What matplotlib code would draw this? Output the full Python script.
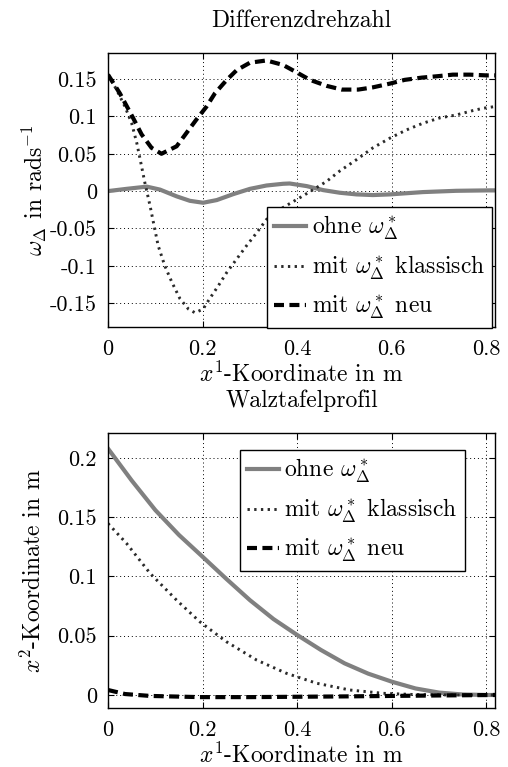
import numpy as np
import matplotlib
matplotlib.use("Agg")
import matplotlib.pyplot as plt

plt.rcParams['font.family'] = 'serif'
plt.rcParams['font.serif'] = ['cmr10']
plt.rcParams['mathtext.fontset'] = 'cm'
plt.rcParams['axes.unicode_minus'] = False
plt.rcParams['axes.formatter.use_mathtext'] = True
plt.rcParams['font.size'] = 17

grau = '#808080'

# Differenzdrehzahl
x_ohne = [0, 0.039, 0.082, 0.11, 0.145, 0.173, 0.201, 0.23, 0.265, 0.3, 0.335, 0.37, 0.384, 0.42, 0.455, 0.49,
          0.525, 0.56, 0.596, 0.666, 0.736, 0.807, 0.818]
w_ohne = [0, 0.003, 0.006, 0.002, -0.007, -0.013, -0.0156, -0.012, -0.004, 0.003, 0.0075, 0.0098, 0.0102, 0.0067,
          0.0013, -0.0022, -0.0044, -0.0053, -0.0044, -0.0013, 0.0004, 0.001, 0.001]

x_klass = [0, 0.018, 0.036, 0.05, 0.061, 0.071, 0.078, 0.089, 0.096, 0.106, 0.12, 0.135, 0.152, 0.17, 0.184, 0.201,
           0.215, 0.233, 0.251, 0.272, 0.293, 0.314, 0.335, 0.37, 0.405, 0.434, 0.462, 0.49, 0.525, 0.56, 0.596,
           0.631, 0.666, 0.701, 0.736, 0.772, 0.793, 0.815]
w_klass = [0.156, 0.136, 0.113, 0.091, 0.064, 0.033, 0.011, -0.02, -0.042, -0.073, -0.1, -0.122, -0.144, -0.158,
           -0.163, -0.158, -0.144, -0.127, -0.109, -0.091, -0.073, -0.056, -0.038, -0.022, -0.009, 0.002, 0.013,
           0.027, 0.042, 0.058, 0.071, 0.082, 0.091, 0.098, 0.102, 0.108, 0.111, 0.113]

x_neu = [0, 0.025, 0.053, 0.071, 0.092, 0.113, 0.145, 0.166, 0.187, 0.208, 0.226, 0.251, 0.272, 0.3, 0.335, 0.37,
         0.396, 0.427, 0.462, 0.494, 0.529, 0.56, 0.596, 0.627, 0.663, 0.698, 0.729, 0.765, 0.8, 0.818]
w_neu = [0.156, 0.131, 0.098, 0.076, 0.058, 0.05, 0.06, 0.078, 0.096, 0.113, 0.131, 0.149, 0.162, 0.172, 0.175,
         0.169, 0.16, 0.149, 0.141, 0.136, 0.136, 0.139, 0.144, 0.149, 0.152, 0.154, 0.156, 0.156, 0.155, 0.155]

# Walztafelprofil
x_p_ohne = [0, 0.05, 0.1, 0.15, 0.2, 0.25, 0.3, 0.35, 0.4, 0.45, 0.5, 0.55, 0.6, 0.65, 0.7, 0.75, 0.8, 0.818]
p_ohne = [0.2079, 0.181, 0.156, 0.135, 0.1166, 0.098, 0.080, 0.064, 0.0506, 0.038, 0.0267, 0.018, 0.0112, 0.0055,
          0.002, 0.0004, 0.0, 0.0]
x_p_klass = [0, 0.039, 0.089, 0.145, 0.194, 0.25, 0.314, 0.377, 0.441, 0.511, 0.582, 0.652, 0.73, 0.818]
p_klass = [0.1447, 0.128, 0.1026, 0.08, 0.0618, 0.045, 0.0295, 0.0183, 0.0099, 0.0042, 0.0014, 0.0003, 0.0, 0.0]
x_p_neu = [0, 0.036, 0.089, 0.194, 0.3, 0.4, 0.5, 0.6, 0.7, 0.818]
p_neu = [0.0042, 0.0008, -0.0008, -0.0018, -0.0018, -0.0015, -0.0012, -0.0008, -0.0004, 0.0]

labels = [r'ohne $\omega_\Delta^*$', r'mit $\omega_\Delta^*$ klassisch', r'mit $\omega_\Delta^*$ neu']
xticks = [0, 0.2, 0.4, 0.6, 0.8]

fig = plt.figure(figsize=(5.08, 7.67), dpi=100)
ax1 = fig.add_axes([0.2126, 0.5737, 0.7618, 0.3572])
ax2 = fig.add_axes([0.2126, 0.0769, 0.7618, 0.3585])


def style(ax):
    ax.grid(True, color='black', linestyle=(0, (1, 3)), linewidth=0.7)
    ax.tick_params(direction='in', top=True, right=True, length=4, width=0.8, labelsize=16)
    ax.tick_params(axis='x', pad=9)
    ax.tick_params(axis='y', pad=8)
    for s in ax.spines.values():
        s.set_linewidth(1.0)
    ax.set_xticks(xticks)
    ax.set_xticklabels(['0', '0.2', '0.4', '0.6', '0.8'])
    ax.set_xlim(0, 0.818)
    ax.set_xlabel(r'$x^1$-Koordinate in m', labelpad=2)


def lines(ax, xs, ys):
    ax.plot(xs[0], ys[0], color=grau, linewidth=3, label=labels[0])
    ax.plot(xs[1], ys[1], color='#2a2a2a', linewidth=2.1, linestyle=(0, (0.8, 1.5)), label=labels[1])
    ax.plot(xs[2], ys[2], color='black', linewidth=3, linestyle=(0, (2.4, 1.3)), label=labels[2])


leg_kw = dict(fancybox=False, framealpha=1, edgecolor='black', handlelength=1.35, handletextpad=0.25,
              borderpad=0.3, borderaxespad=0, labelspacing=0.5, handleheight=0.7)

lines(ax1, [x_ohne, x_klass, x_neu], [w_ohne, w_klass, w_neu])
style(ax1)
ax1.set_ylim(-0.182, 0.185)
ax1.set_yticks([-0.15, -0.1, -0.05, 0, 0.05, 0.1, 0.15])
ax1.set_yticklabels(['-0.15', '-0.1', '-0.05', '0', '0.05', '0.1', '0.15'])
ax1.set_ylabel(r'$\omega_\Delta$ in rads$^{-1}$', labelpad=1)
ax1.set_title('Differenzdrehzahl', pad=19, fontsize=17)
ax1.legend(loc='lower right', bbox_to_anchor=(0.992, -0.004), **leg_kw)

lines(ax2, [x_p_ohne, x_p_klass, x_p_neu], [p_ohne, p_klass, p_neu])
style(ax2)
ax2.set_ylim(-0.011, 0.221)
ax2.set_yticks([0, 0.05, 0.1, 0.15, 0.2])
ax2.set_yticklabels(['0', '0.05', '0.1', '0.15', '0.2'])
ax2.set_ylabel(r'$x^2$-Koordinate in m', labelpad=8)
ax2.set_title('Walztafelprofil', pad=19, fontsize=17)
ax2.legend(loc='upper right', bbox_to_anchor=(0.922, 0.938), **leg_kw)

fig.savefig('out.png', dpi=100)
